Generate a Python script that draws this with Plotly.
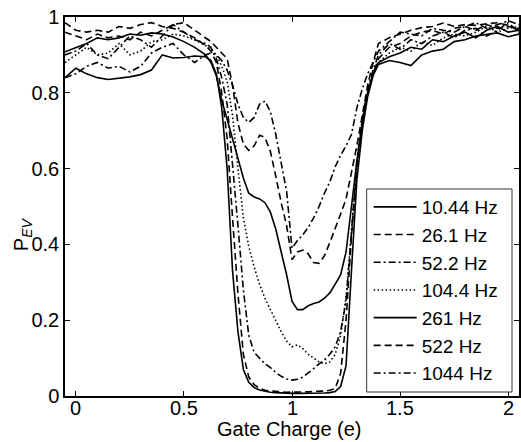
import plotly.graph_objects as go

gate_charge = [-0.05, 0, 0.05, 0.1, 0.15, 0.2, 0.25, 0.3, 0.35, 0.4, 0.45, 0.5, 0.55, 0.6,
               0.625, 0.65, 0.675, 0.7, 0.725, 0.75, 0.775, 0.8, 0.825, 0.85, 0.875, 0.9,
               0.925, 0.95, 0.975, 1.0, 1.025, 1.05, 1.075, 1.1, 1.125, 1.15, 1.175, 1.2,
               1.225, 1.25, 1.275, 1.3, 1.325, 1.35, 1.375,
               1.4, 1.45, 1.5, 1.55, 1.6, 1.65, 1.7, 1.75, 1.8, 1.85, 1.9, 1.95, 2.0, 2.05]

p_10_44 = [0.84, 0.865, 0.85, 0.84, 0.835, 0.838, 0.842, 0.848, 0.86, 0.9, 0.892, 0.893, 0.897, 0.895,
           0.885, 0.85, 0.76, 0.6, 0.33, 0.17, 0.07, 0.036, 0.022, 0.016, 0.012, 0.01, 0.009, 0.008,
           0.008, 0.007, 0.007, 0.007, 0.008, 0.008, 0.008, 0.008, 0.009, 0.012, 0.025, 0.08, 0.33,
           0.57, 0.7, 0.79, 0.845,
           0.875, 0.885, 0.88, 0.872, 0.9, 0.91, 0.915, 0.935, 0.94, 0.95, 0.955, 0.958, 0.948, 0.955]

p_26_1 = [0.985, 0.965, 0.96, 0.965, 0.96, 0.975, 0.97, 0.98, 0.985, 0.975, 0.97, 0.96, 0.945, 0.925,
          0.91, 0.88, 0.8, 0.68, 0.47, 0.27, 0.11, 0.05, 0.03, 0.02, 0.015, 0.013, 0.012, 0.011,
          0.01, 0.01, 0.01, 0.011, 0.011, 0.012, 0.012, 0.013, 0.015, 0.02, 0.06, 0.2, 0.42,
          0.6, 0.72, 0.8, 0.85,
          0.89, 0.92, 0.93, 0.95, 0.96, 0.965, 0.955, 0.97, 0.975, 0.965, 0.98, 0.97, 0.975, 0.97]

p_52_2 = [0.9, 0.91, 0.93, 0.9, 0.89, 0.92, 0.95, 0.94, 0.92, 0.95, 0.98, 0.96, 0.94, 0.93,
          0.92, 0.89, 0.84, 0.77, 0.62, 0.45, 0.28, 0.16, 0.115, 0.1, 0.085, 0.075, 0.062, 0.052,
          0.045, 0.042, 0.044, 0.05, 0.06, 0.072, 0.085, 0.095, 0.11, 0.13, 0.17, 0.25, 0.43,
          0.62, 0.73, 0.81, 0.86,
          0.9, 0.93, 0.915, 0.94, 0.93, 0.95, 0.96, 0.945, 0.965, 0.97, 0.95, 0.965, 0.985, 0.96]

p_104_4 = [0.88, 0.9, 0.92, 0.9, 0.905, 0.93, 0.9, 0.91, 0.935, 0.94, 0.955, 0.95, 0.94, 0.925,
           0.915, 0.9, 0.87, 0.83, 0.74, 0.6, 0.47, 0.395, 0.34, 0.295, 0.258, 0.228, 0.197, 0.17,
           0.145, 0.13, 0.135, 0.125, 0.11, 0.1, 0.09, 0.085, 0.09, 0.11, 0.16, 0.26, 0.44,
           0.61, 0.72, 0.8, 0.85,
           0.88, 0.905, 0.92, 0.91, 0.935, 0.925, 0.945, 0.955, 0.95, 0.96, 0.975, 0.96, 0.97, 0.975]

p_261 = [0.908, 0.92, 0.93, 0.945, 0.94, 0.945, 0.955, 0.952, 0.958, 0.955, 0.947, 0.935, 0.92, 0.9,
         0.88, 0.845, 0.78, 0.73, 0.68, 0.625, 0.575, 0.535, 0.525, 0.52, 0.51, 0.485, 0.44, 0.38,
         0.32, 0.25, 0.228, 0.228, 0.238, 0.244, 0.248, 0.258, 0.272, 0.295, 0.32, 0.38, 0.5,
         0.62, 0.72, 0.8, 0.85,
         0.88, 0.895, 0.905, 0.92, 0.915, 0.94, 0.935, 0.95, 0.96, 0.945, 0.965, 0.975, 0.96, 0.965]

p_522 = [0.96, 0.95, 0.94, 0.955, 0.945, 0.95, 0.94, 0.96, 0.95, 0.965, 0.98, 0.985, 0.965, 0.945,
         0.935, 0.92, 0.905, 0.89, 0.82, 0.72, 0.665, 0.648, 0.66, 0.688, 0.682, 0.645, 0.58, 0.51,
         0.45, 0.36, 0.38, 0.385, 0.375, 0.352, 0.35, 0.37, 0.405, 0.44, 0.48, 0.52, 0.59,
         0.66, 0.74, 0.82, 0.88,
         0.93, 0.945, 0.955, 0.965, 0.972, 0.975, 0.984, 0.975, 0.98, 0.978, 0.982, 0.985, 0.978, 0.966]

p_1044 = [0.84, 0.85, 0.87, 0.88, 0.865, 0.87, 0.855, 0.87, 0.905, 0.92, 0.93, 0.9, 0.88, 0.9,
          0.905, 0.9, 0.885, 0.86, 0.82, 0.77, 0.735, 0.722, 0.735, 0.77, 0.778, 0.75, 0.69, 0.62,
          0.54, 0.39, 0.41, 0.425, 0.445, 0.47, 0.5, 0.535, 0.565, 0.605, 0.635, 0.66, 0.69,
          0.76, 0.81, 0.85, 0.88,
          0.91, 0.935, 0.96, 0.955, 0.95, 0.97, 0.965, 0.96, 0.975, 0.985, 0.97, 0.98, 0.99, 0.98]

series_names = ["10.44 Hz", "26.1 Hz", "52.2 Hz", "104.4 Hz", "261 Hz", "522 Hz", "1044 Hz"]
series_values = [p_10_44, p_26_1, p_52_2, p_104_4, p_261, p_522, p_1044]
series_dash = ["solid", "7px,4px", "7px,3px,2px,3px", "1.5px,2.5px", "solid", "7px,4px", "7px,3px,2px,3px"]

x_ticks = [0, 0.5, 1, 1.5, 2]
x_tick_labels = ["0", "0.5", "1", "1.5", "2"]
y_ticks = [0, 0.2, 0.4, 0.6, 0.8, 1]
y_tick_labels = ["0", "0.2", "0.4", "0.6", "0.8", "1"]

fig = go.Figure()
for name, vals, dash in zip(series_names, series_values, series_dash):
    fig.add_trace(go.Scatter(x=gate_charge, y=vals, mode="lines", name=name,
                             line=dict(color="black", width=1.6, dash=dash)))

font = dict(family="Liberation Sans, Arial, sans-serif", size=20, color="black")
axis_common = dict(showline=True, linecolor="black", linewidth=1.5, mirror="ticks",
                   ticks="inside", ticklen=5, tickwidth=1.2, tickcolor="black",
                   showgrid=False, zeroline=False, tickfont=font)

# plot area in pixels: x 65..521, y 17..396
def px_x(px):
    return (px - 65) / 456.0

def px_y(py):
    return (396 - py) / 379.0

annotations = [
    dict(text=lab, xref="x", yref="paper", x=val, y=px_y(408),
         xanchor="center", yanchor="middle", showarrow=False, font=font)
    for val, lab in zip(x_ticks, x_tick_labels)
]
annotations += [
    dict(text="Gate Charge (e)", xref="paper", yref="paper", x=px_x(290), y=px_y(429),
         xanchor="center", yanchor="middle", showarrow=False, font=font),
    dict(text="P<sub><i>EV</i></sub>", xref="paper", yref="paper", x=px_x(22), y=px_y(234),
         xanchor="center", yanchor="middle", textangle=-90, showarrow=False, font=font),
]

fig.update_layout(
    width=521, height=442,
    margin=dict(l=65, r=0, t=17, b=46),
    paper_bgcolor="white", plot_bgcolor="white",
    font=font,
    showlegend=True,
    legend=dict(x=px_x(370), y=px_y(188), xanchor="left", yanchor="top",
                borderwidth=0, bgcolor="rgba(0,0,0,0)",
                font=dict(family="Liberation Sans, Arial, sans-serif", size=19, color="black"),
                itemwidth=43, tracegroupgap=0),
    xaxis=dict(range=[-0.05, 2.05], tickvals=x_ticks, showticklabels=False, **axis_common),
    yaxis=dict(range=[0, 1], tickvals=y_ticks, ticktext=y_tick_labels, **axis_common),
    shapes=[dict(type="rect", xref="paper", yref="paper",
                 x0=px_x(368), x1=px_x(514), y0=px_y(392), y1=px_y(189),
                 line=dict(color="#333333", width=1), fillcolor="white", layer="above")],
    annotations=annotations,
)

fig.write_html("out.html", config={"displayModeBar": False},
               post_script="document.body.style.margin='0';document.body.style.overflow='hidden';")
